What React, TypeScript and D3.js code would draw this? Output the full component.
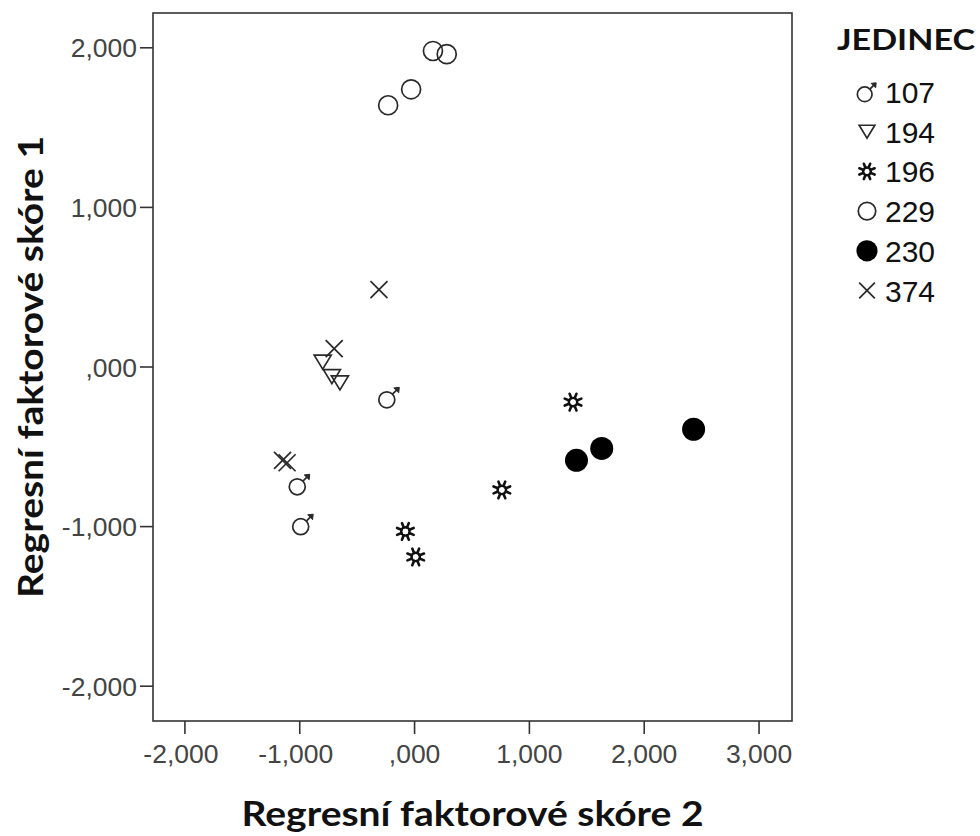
import React from "react";
import * as d3 from "d3";

// Factor scores per individual (x = Regresní faktorové skóre 2, y = skóre 1)
const groups = ["107", "194", "196", "229", "230", "374"];
const x107 = [-0.22, -1.0, -0.97];
const y107 = [-0.19, -0.735, -0.985];
const x194 = [-0.8, -0.72, -0.65];
const y194 = [0.03, -0.06, -0.1];
const x196 = [1.38, 0.76, -0.08, 0.01];
const y196 = [-0.22, -0.77, -1.03, -1.19];
const x229 = [0.16, 0.28, -0.03, -0.23];
const y229 = [1.98, 1.96, 1.74, 1.64];
const x230 = [1.41, 1.63, 2.43];
const y230 = [-0.585, -0.51, -0.39];
const x374 = [-0.31, -0.7, -1.15, -1.11];
const y374 = [0.485, 0.115, -0.585, -0.6];

const xTicks = [-2, -1, 0, 1, 2, 3];
const yTicks = [-2, -1, 0, 1, 2];
const xTitle = "Regresní faktorové skóre 2";
const yTitle = "Regresní faktorové skóre 1";
const legendTitle = "JEDINEC";

const W = 980;
const H = 836;
const plot = { left: 153, right: 792, top: 13, bottom: 721 };

const xScale = d3.scaleLinear().domain([-2.278, 3.287]).range([plot.left, plot.right]);
const yScale = d3.scaleLinear().domain([-2.218, 2.218]).range([plot.bottom, plot.top]);

// SPSS-style number labels: comma decimal separator, no leading zero
const fmt = (v: number) => {
  const s = d3.format(".3f")(Math.abs(v)).replace(".", ",");
  const t = s.startsWith("0,") ? s.slice(1) : s;
  return (v < 0 ? "-" : "") + t;
};

const INK = "#2a2a2a";

function Marker({ kind, cx, cy, k = 1 }: { kind: string; cx: number; cy: number; k?: number }) {
  const sw = 1.7;
  if (kind === "107") {
    const r = 8 * k;
    const ox = -2.5 * k, oy = 2.5 * k;
    const a = Math.SQRT1_2;
    const x0 = ox + r * a, y0 = oy - r * a;
    const tip = 10 * k;
    return (
      <g transform={`translate(${cx},${cy})`} stroke={INK} strokeWidth={sw} fill="none">
        <circle cx={ox} cy={oy} r={r} />
        <line x1={x0} y1={y0} x2={tip - 1.5 * k} y2={-tip + 1.5 * k} />
        <path d={`M${tip},${-tip} L${tip - 5.5 * k},${-tip + 0.6 * k} L${tip - 0.6 * k},${-tip + 5.5 * k} Z`} fill={INK} strokeWidth={1} />
      </g>
    );
  }
  if (kind === "194") {
    const w = 8.5 * k, h = 7 * k;
    return (
      <path
        transform={`translate(${cx},${cy})`}
        d={`M${-w},${-h} L${w},${-h} L0,${h} Z`}
        stroke={INK}
        strokeWidth={sw}
        fill="none"
        strokeLinejoin="miter"
      />
    );
  }
  if (kind === "196") {
    const r0 = 4.2 * k, r1 = 9 * k;
    const spokes = d3.range(8).map((i) => (i * Math.PI) / 4 + Math.PI / 8);
    return (
      <g transform={`translate(${cx},${cy})`} stroke="#111" fill="none">
        <circle r={r0} strokeWidth={2.4} />
        {spokes.map((t, i) => (
          <line key={i} x1={r0 * Math.cos(t)} y1={r0 * Math.sin(t)} x2={r1 * Math.cos(t)} y2={r1 * Math.sin(t)} strokeWidth={2.6} strokeLinecap="round" />
        ))}
      </g>
    );
  }
  if (kind === "229") {
    return <circle cx={cx} cy={cy} r={9.5 * k} stroke={INK} strokeWidth={sw} fill="none" />;
  }
  if (kind === "230") {
    return <circle cx={cx} cy={cy} r={11.5 * k} fill="#000" />;
  }
  // 374: cross
  const s = 8.5 * k;
  return (
    <g transform={`translate(${cx},${cy})`} stroke={INK} strokeWidth={sw}>
      <line x1={-s} y1={-s} x2={s} y2={s} />
      <line x1={-s} y1={s} x2={s} y2={-s} />
    </g>
  );
}

export default function App() {
  const series: [string, number[], number[]][] = [
    ["107", x107, y107],
    ["194", x194, y194],
    ["196", x196, y196],
    ["229", x229, y229],
    ["230", x230, y230],
    ["374", x374, y374],
  ];
  const tickFont = "'Liberation Sans', Arial, sans-serif";
  const titleFont = "Lato, 'Open Sans', sans-serif";
  const midY = (plot.top + plot.bottom) / 2;
  const midX = (plot.left + plot.right) / 2;

  return (
    <svg width={W} height={H} style={{ position: "absolute", left: 0, top: 0, background: "#fff" }}>
      <rect x={0} y={0} width={W} height={H} fill="#fff" />
      {/* plot frame */}
      <rect
        x={plot.left}
        y={plot.top}
        width={plot.right - plot.left}
        height={plot.bottom - plot.top}
        fill="none"
        stroke="#333"
        strokeWidth={1.6}
      />
      {/* y axis ticks */}
      {yTicks.map((t) => (
        <g key={"y" + t}>
          <line x1={plot.left - 13} x2={plot.left} y1={yScale(t)} y2={yScale(t)} stroke="#333" strokeWidth={1.6} />
          <text x={plot.left - 16} y={yScale(t)} dy="0.36em" textAnchor="end" fontFamily={tickFont} fontSize={26.5} fill="#444">
            {fmt(t)}
          </text>
        </g>
      ))}
      {/* x axis ticks */}
      {xTicks.map((t) => (
        <g key={"x" + t}>
          <line x1={xScale(t)} x2={xScale(t)} y1={plot.bottom} y2={plot.bottom + 13} stroke="#333" strokeWidth={1.6} />
          <text x={xScale(t) - (t < 0 ? 4 : 0)} y={plot.bottom + 42} textAnchor="middle" fontFamily={tickFont} fontSize={26.5} fill="#444">
            {fmt(t)}
          </text>
        </g>
      ))}
      {/* points */}
      {series.map(([g, xs, ys]) =>
        xs.map((xv, i) => <Marker key={g + i} kind={g} cx={xScale(xv)} cy={yScale(ys[i])} />)
      )}
      {/* axis titles */}
      <text
        x={midX}
        y={826}
        textAnchor="middle"
        fontFamily={titleFont}
        fontWeight="bold"
        fontSize={35}
        fill="#111"
        textLength={462}
        lengthAdjust="spacingAndGlyphs"
      >
        {xTitle}
      </text>
      <text
        transform={`translate(43,${midY}) rotate(-90)`}
        textAnchor="middle"
        fontFamily={titleFont}
        fontWeight="bold"
        fontSize={35}
        fill="#111"
        textLength={462}
        lengthAdjust="spacingAndGlyphs"
      >
        {yTitle}
      </text>
      {/* legend */}
      <text x={837} y={50} fontFamily={titleFont} fontWeight="bold" fontSize={28} fill="#111" textLength={138} lengthAdjust="spacingAndGlyphs">
        {legendTitle}
      </text>
      {groups.map((g, i) => {
        const base = 103 + i * 39.7;
        return (
          <g key={"lg" + g}>
            <Marker kind={g} cx={867} cy={base - 11} k={0.92} />
            <text x={885} y={base} fontFamily={tickFont} fontSize={30} fill="#111">
              {g}
            </text>
          </g>
        );
      })}
    </svg>
  );
}
